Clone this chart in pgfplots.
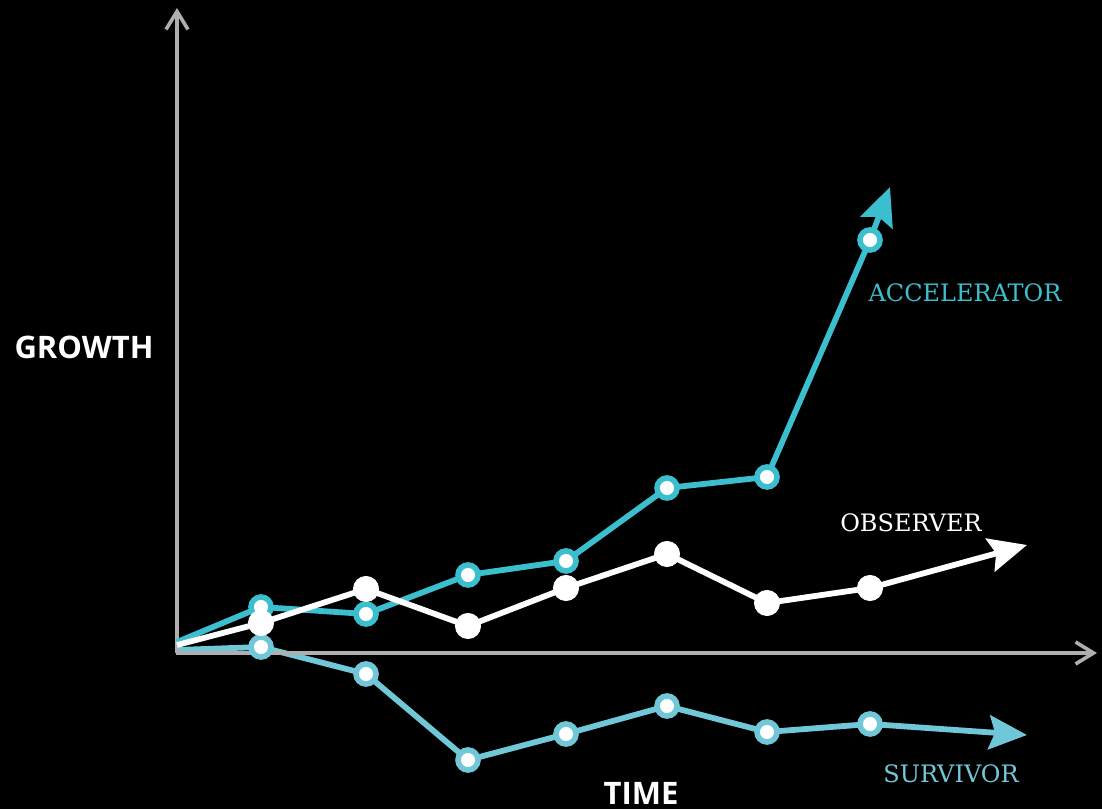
\documentclass[border=0pt]{standalone}
\usepackage{pgfplots}
\pgfplotsset{compat=1.18}
\usepackage{fontspec}
\setsansfont{Open Sans}
\newfontfamily\labelserif{DejaVu Serif}
\usetikzlibrary{arrows.meta}
\definecolor{accel}{RGB}{59,190,206}
\definecolor{surv}{RGB}{112,199,215}
\definecolor{axgray}{RGB}{175,175,175}
\pgfplotstableread{
x y
177 167
261 202
366 195
468 234
566 248
667 321
767 332
870 569
890 622
}\accel
\pgfplotstableread{
x y
177 164
261 186
366 220
468 183
566 221
667 255
767 206
870 221
1027 264
}\observer
\pgfplotstableread{
x y
177 159
261 162
366 135
468 49
566 75
667 103
767 77
870 85
1027 74
}\survivor
\begin{document}
\begin{tikzpicture}
\begin{axis}[
  scale only axis, width=551pt, height=404.5pt,
  xmin=0, xmax=1102, ymin=0, ymax=809,
  axis lines=none, clip=false,
]
\fill[black] (rel axis cs:0,0) rectangle (rel axis cs:1,1);
% survivor
\addplot[surv, line width=2.9pt, line join=round, -{Stealth[length=19pt,width=17pt,inset=3pt]}] table[x=x,y=y] {\survivor};
\addplot[surv, line width=2.8pt, only marks, mark=*, mark size=5pt, mark options={fill=white, draw=surv}, skip coords between index={8}{9}, skip coords between index={0}{1}] table[x=x,y=y] {\survivor};
% axes
\addplot[axgray, line width=1.8pt, -{Straight Barb[length=9pt,width=11pt]}] coordinates {(177,156) (177,801)};
\addplot[axgray, line width=1.8pt, -{Straight Barb[length=9pt,width=11pt]}] coordinates {(176,156) (1097,156)};
% accelerator
\addplot[accel, line width=2.9pt, line join=round, -{Stealth[length=19pt,width=17pt,inset=3pt]}] table[x=x,y=y] {\accel};
\addplot[accel, line width=2.8pt, only marks, mark=*, mark size=5pt, mark options={fill=white, draw=accel}, skip coords between index={8}{9}, skip coords between index={0}{1}] table[x=x,y=y] {\accel};
% observer
\addplot[white, line width=2.9pt, line join=round, -{Stealth[length=19pt,width=17pt,inset=3pt]}] table[x=x,y=y] {\observer};
\addplot[white, only marks, mark=*, mark size=6.3pt, mark options={fill=white, draw=white}, skip coords between index={8}{9}, skip coords between index={0}{1}] table[x=x,y=y] {\observer};
% labels
\node[white, font=\sffamily\bfseries\fontsize{15.5}{18}\selectfont] at (axis cs:84,462) {GROWTH};
\node[white, font=\sffamily\bfseries\fontsize{15.5}{18}\selectfont] at (axis cs:641,16) {TIME};
\node[accel, font=\labelserif\fontsize{12}{14}\selectfont] at (axis cs:965,516) {ACCELERATOR};
\node[white, font=\labelserif\fontsize{12}{14}\selectfont] at (axis cs:911,286) {OBSERVER};
\node[surv, font=\labelserif\fontsize{12}{14}\selectfont] at (axis cs:951,35) {SURVIVOR};
\end{axis}
\end{tikzpicture}
\end{document}
